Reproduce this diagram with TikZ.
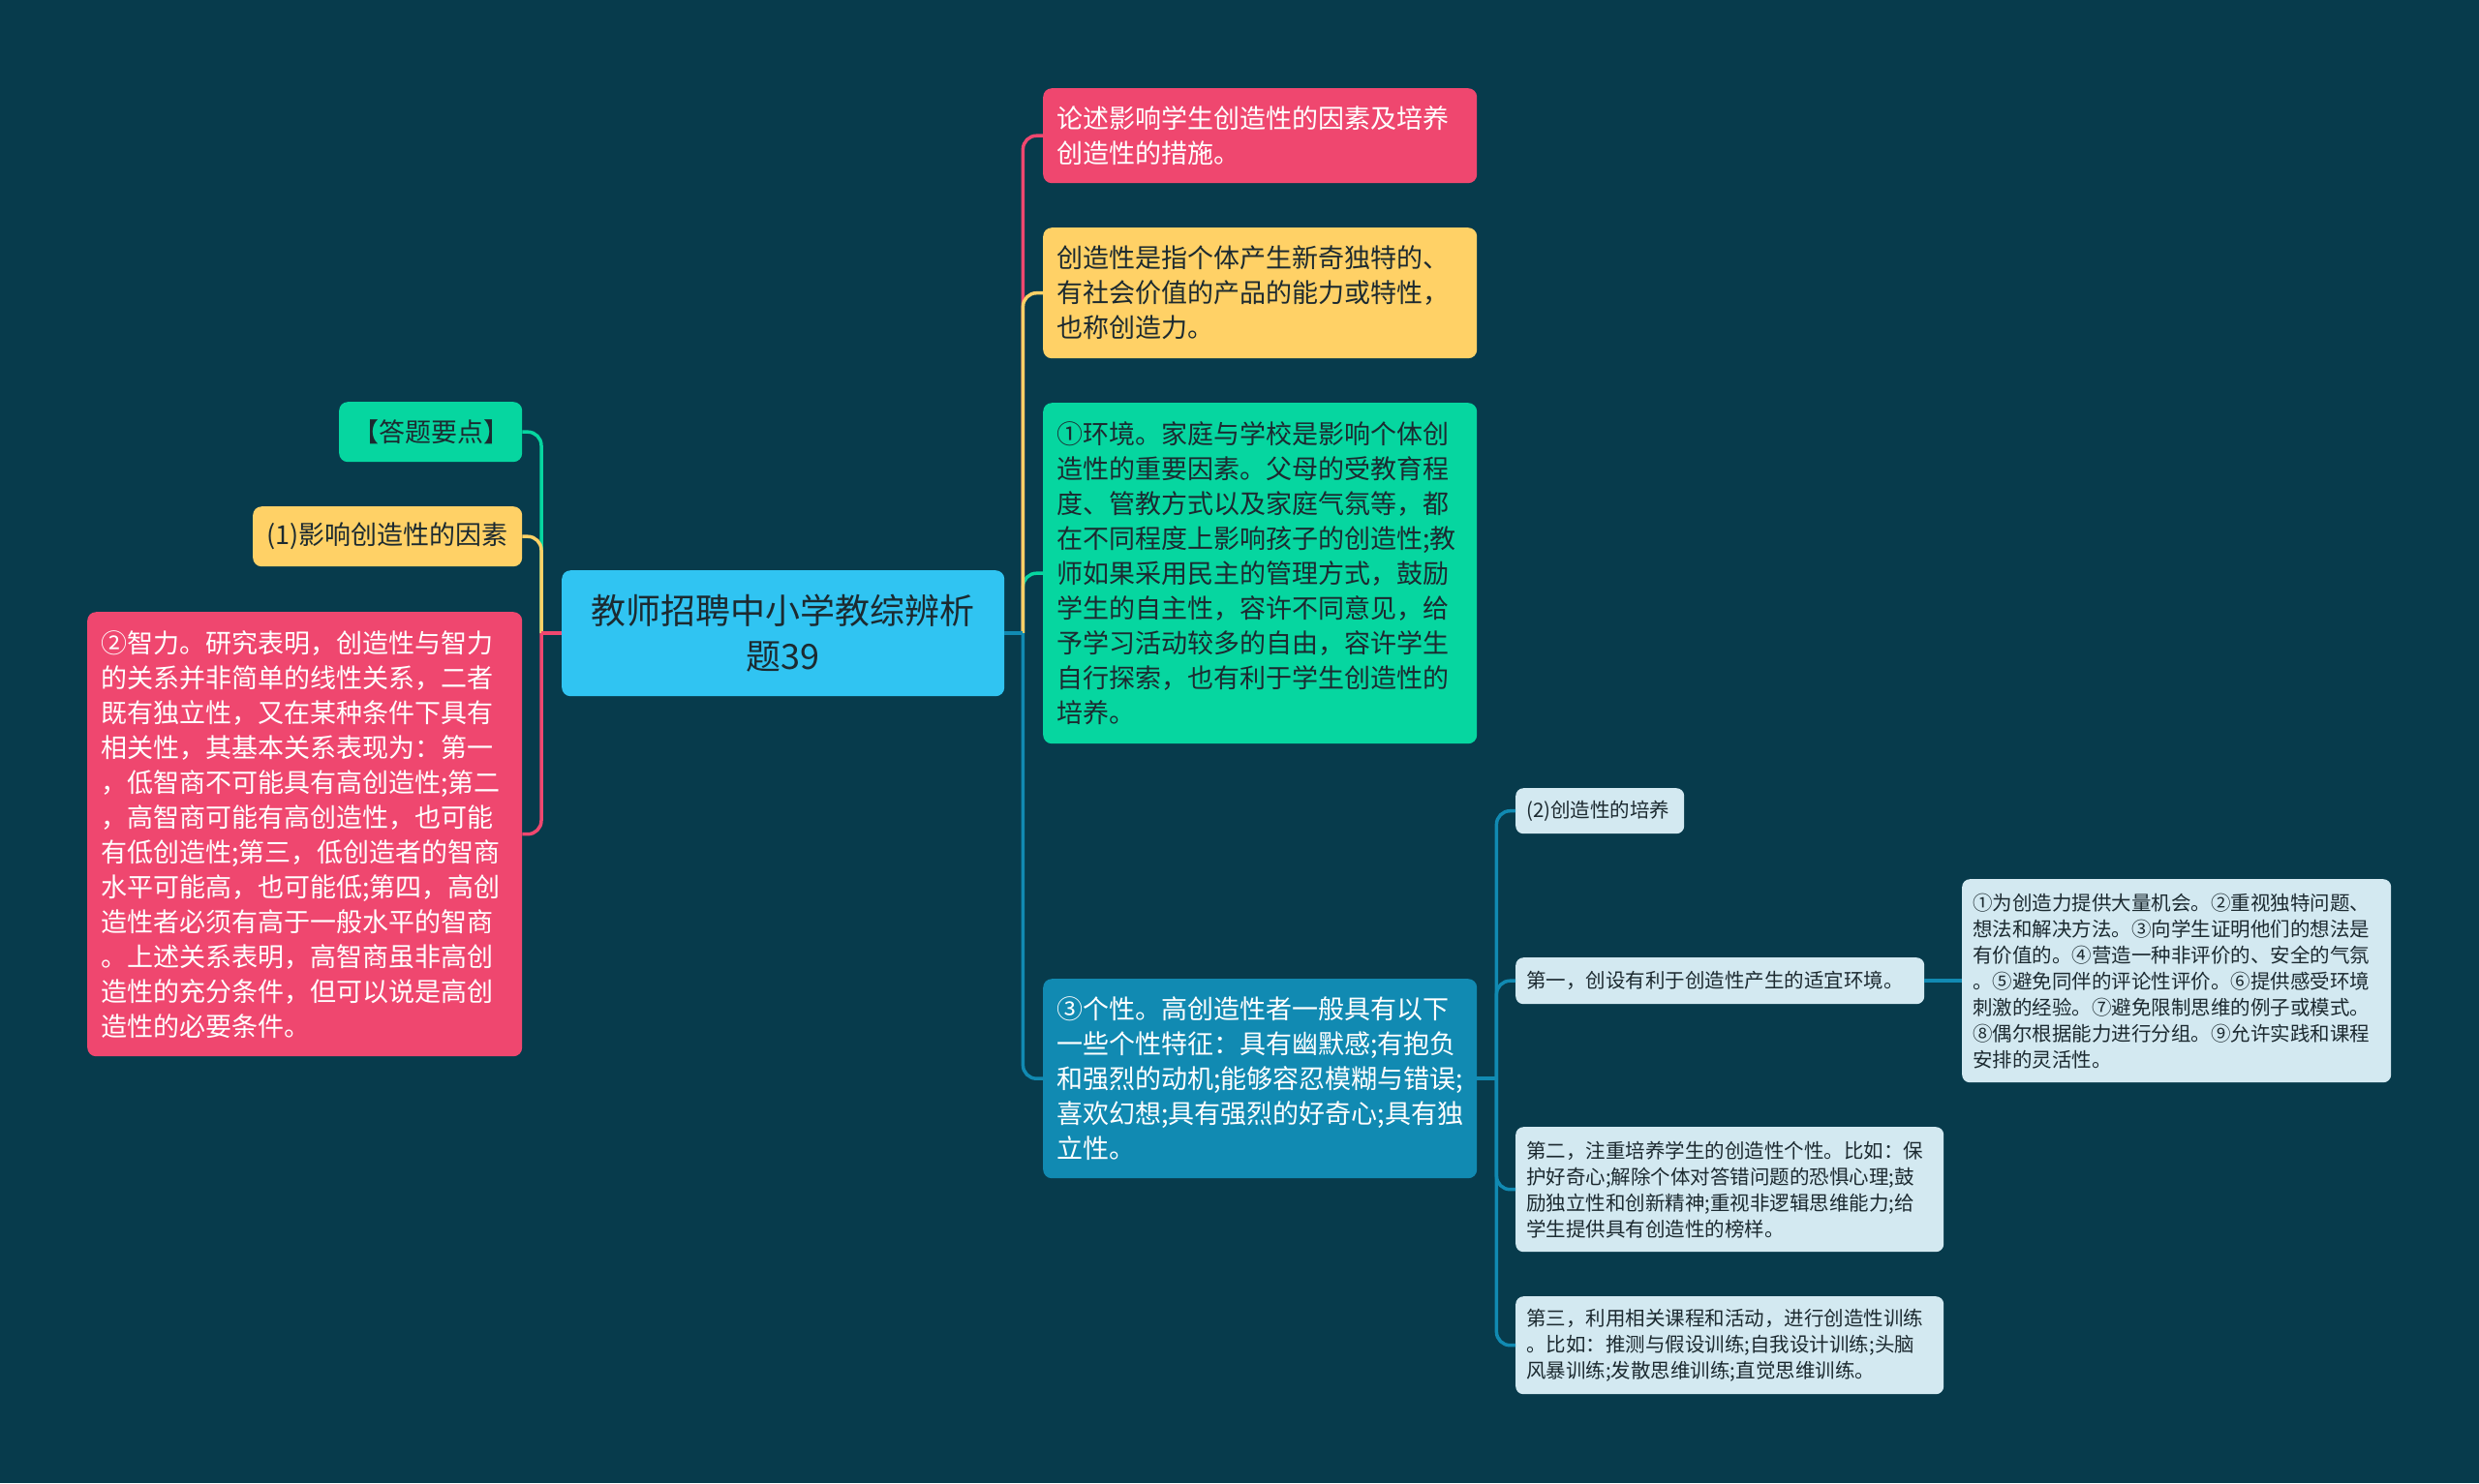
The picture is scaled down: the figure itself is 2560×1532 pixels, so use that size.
\documentclass[tikz,border=0pt]{standalone}
\usepackage{fontspec}
\setmainfont{Noto Sans CJK SC}
\usetikzlibrary{positioning}

\definecolor{bgc}{HTML}{073B4C}
\definecolor{pinkc}{HTML}{EF476F}
\definecolor{yellowc}{HTML}{FFD166}
\definecolor{greenc}{HTML}{06D6A0}
\definecolor{bluec}{HTML}{118AB2}
\definecolor{rootc}{HTML}{30C4F2}
\definecolor{leafc}{HTML}{D3E9F1}
\definecolor{inkc}{HTML}{1C2A30}

\begin{document}
\begin{tikzpicture}[
        x=1pt, y=-1pt,
        box/.style={rectangle, rounded corners=9pt, anchor=north west, inner xsep=14pt, inner ysep=0pt, align=left, text=inkc, font=\fontsize{27}{36}\selectfont},
        leaf/.style={box, fill=leafc, inner xsep=11pt, rounded corners=8pt, font=\fontsize{20.5}{27}\selectfont},
        link/.style={line width=3.5pt, rounded corners=14pt}
    ]

    % Background
    \fill[bgc] (0,0) rectangle (2560,1532);
    \useasboundingbox (0,0) rectangle (2560,1532);

    % Root
    \node[box, fill=rootc, align=center, minimum width=457pt, minimum height=130pt, text width=429pt, font=\fontsize{36}{47}\selectfont] (root) at (580,589) {教师招聘中小学教综辨析\\题39};

    % Left branches
    \node[box, fill=greenc, align=center, minimum width=189pt, minimum height=62pt, text width=161pt] (kp) at (350,415) {【答题要点】};
    \node[box, fill=yellowc, align=center, minimum width=278pt, minimum height=62pt, text width=250pt] (f1) at (261,523) {(1)影响创造性的因素};
    \node[box, fill=pinkc, text=white, minimum width=449pt, minimum height=459pt, text width=421pt] (iq) at (90,632) {②智力。研究表明，创造性与智力\\的关系并非简单的线性关系，二者\\既有独立性，又在某种条件下具有\\相关性，其基本关系表现为：第一\\，低智商不可能具有高创造性;第二\\，高智商可能有高创造性，也可能\\有低创造性;第三，低创造者的智商\\水平可能高，也可能低;第四，高创\\造性者必须有高于一般水平的智商\\。上述关系表明，高智商虽非高创\\造性的充分条件，但可以说是高创\\造性的必要条件。};

    % Right branches
    \node[box, fill=pinkc, text=white, minimum width=448pt, minimum height=98pt, text width=420pt] (tp) at (1077,91) {论述影响学生创造性的因素及培养\\创造性的措施。};
    \node[box, fill=yellowc, minimum width=448pt, minimum height=135pt, text width=420pt] (df) at (1077,235) {创造性是指个体产生新奇独特的、\\有社会价值的产品的能力或特性，\\也称创造力。};
    \node[box, fill=greenc, minimum width=448pt, minimum height=352pt, text width=420pt] (env) at (1077,416) {①环境。家庭与学校是影响个体创\\造性的重要因素。父母的受教育程\\度、管教方式以及家庭气氛等，都\\在不同程度上影响孩子的创造性;教\\师如果采用民主的管理方式，鼓励\\学生的自主性，容许不同意见，给\\予学习活动较多的自由，容许学生\\自行探索，也有利于学生创造性的\\培养。};
    \node[box, fill=bluec, text=white, minimum width=448pt, minimum height=206pt, text width=420pt] (pers) at (1077,1011) {③个性。高创造性者一般具有以下\\一些个性特征：具有幽默感;有抱负\\和强烈的动机;能够容忍模糊与错误;\\喜欢幻想;具有强烈的好奇心;具有独\\立性。};

    % Leaves
    \node[leaf, minimum width=174pt, minimum height=47pt, text width=152pt] (c2) at (1565,814) {(2)创造性的培养};
    \node[leaf, minimum width=422pt, minimum height=48pt, text width=400pt] (s1) at (1565,989) {第一，创设有利于创造性产生的适宜环境。};
    \node[leaf, minimum width=443pt, minimum height=210pt, text width=421pt] (s1d) at (2026,908) {①为创造力提供大量机会。②重视独特问题、\\想法和解决方法。③向学生证明他们的想法是\\有价值的。④营造一种非评价的、安全的气氛\\。⑤避免同伴的评论性评价。⑥提供感受环境\\刺激的经验。⑦避免限制思维的例子或模式。\\⑧偶尔根据能力进行分组。⑨允许实践和课程\\安排的灵活性。};
    \node[leaf, minimum width=442pt, minimum height=129pt, text width=420pt] (s2) at (1565,1164) {第二，注重培养学生的创造性个性。比如：保\\护好奇心;解除个体对答错问题的恐惧心理;鼓\\励独立性和创新精神;重视非逻辑思维能力;给\\学生提供具有创造性的榜样。};
    \node[leaf, minimum width=442pt, minimum height=101pt, text width=420pt] (s3) at (1565,1339) {第三，利用相关课程和活动，进行创造性训练\\。比如：推测与假设训练;自我设计训练;头脑\\风暴训练;发散思维训练;直觉思维训练。};

    % Spines
    \coordinate[left=21pt of root] (lspine);
    \coordinate[right=19pt of root] (rspine);
    \coordinate[right=20pt of pers] (pspine);

    % Left connectors
    \draw[link, draw=greenc] (lspine) |- (kp.east);
    \draw[link, draw=yellowc] (lspine) |- (f1.east);
    \draw[link, draw=pinkc] (lspine) |- (iq.east);
    \draw[link, draw=pinkc] (root.west) -- (lspine);

    % Right connectors
    \draw[link, draw=greenc] (rspine) |- (env.west);
    \draw[link, draw=pinkc] (rspine) |- (tp.west);
    \draw[link, draw=yellowc] (rspine) |- (df.west);
    \draw[link, draw=bluec] (rspine) |- (pers.west);
    \draw[link, draw=bluec] (root.east) -- (rspine);

    % Connectors of the third branch
    \draw[link, draw=bluec] (pers.east) -- (pspine);
    \foreach \leafname in {c2, s1, s2, s3}
        \draw[link, draw=bluec] (pspine) |- (\leafname.west);
    \draw[link, draw=bluec] (s1.east) -- (s1d.west);

\end{tikzpicture}
\end{document}
